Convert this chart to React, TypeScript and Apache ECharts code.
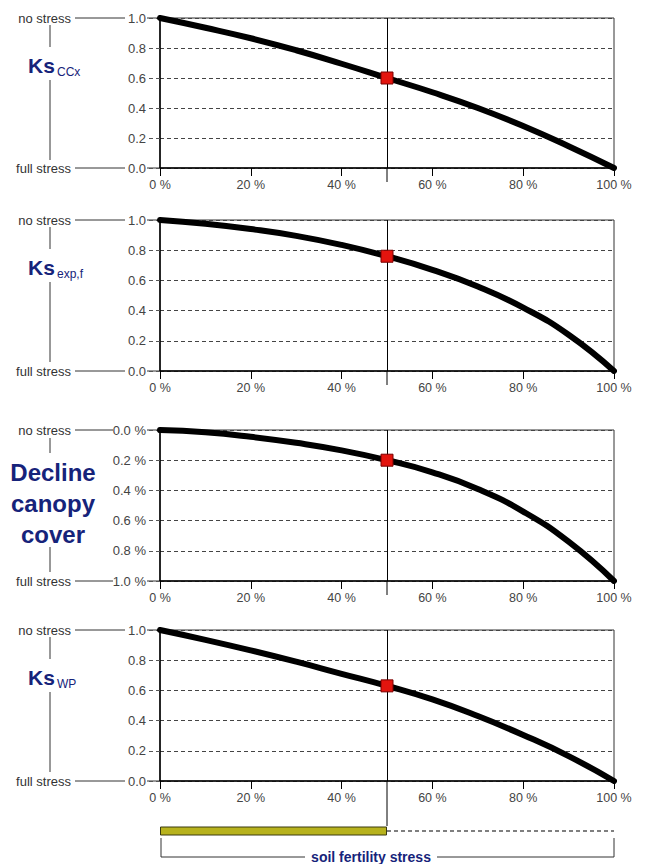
import React, { useEffect, useRef } from "react";
import * as echarts from "echarts";

// soil fertility stress (%) along the x axis
const stressPct = [0, 10, 20, 30, 40, 50, 60, 70, 80, 90, 100];
const ksCCx = [1.0, 0.935, 0.865, 0.785, 0.695, 0.6, 0.505, 0.4, 0.28, 0.145, 0.0];
const ksExpF = [1.0, 0.975, 0.94, 0.895, 0.835, 0.76, 0.67, 0.56, 0.42, 0.24, 0.0];
const declineCC = [0.0, 0.015, 0.045, 0.085, 0.135, 0.2, 0.28, 0.39, 0.54, 0.74, 1.0];
const ksWP = [1.0, 0.935, 0.865, 0.79, 0.71, 0.63, 0.54, 0.43, 0.305, 0.165, 0.0];
const currentStress = 50;
const xTicks = [0, 20, 40, 60, 80, 100];
const yTicks = [0, 0.2, 0.4, 0.6, 0.8, 1.0];

const seriesList = [ksCCx, ksExpF, declineCC, ksWP];
const panelTitles = [
  { main: "Ks", sub: "CCx" },
  { main: "Ks", sub: "exp,f" },
  { main: "Decline\ncanopy\ncover", sub: "" },
  { main: "Ks", sub: "WP" },
];

const FONT = "'Liberation Sans', Arial, sans-serif";
const NAVY = "#16237a";
const PLOT_LEFT = 160;
const PLOT_W = 454;
const tops = [18, 220, 430, 630];
const heights = [150, 151, 151, 151];
const BAR_TOP = 826;

export default function App() {
  const ref = useRef<HTMLDivElement>(null);
  useEffect(() => {
    if (!ref.current) return;
    const chart = echarts.init(ref.current, null, { renderer: "svg" });
    const idx = stressPct.indexOf(currentStress);

    const grids: any[] = tops.map((t, i) => ({
      left: PLOT_LEFT,
      width: PLOT_W,
      top: t,
      height: heights[i],
      show: true,
      borderColor: "#333",
      borderWidth: 1,
      backgroundColor: "#fff",
    }));
    grids.push({ left: PLOT_LEFT, width: PLOT_W, top: BAR_TOP, height: 10 });

    const xAxes: any[] = tops.map((_, i) => ({
      type: "value",
      gridIndex: i,
      min: 0,
      max: 100,
      interval: 20,
      axisLine: { show: true, onZero: false, lineStyle: { color: "#000", width: 1.5 } },
      axisTick: { show: true, length: 8, lineStyle: { color: "#000", width: 1 } },
      axisLabel: {
        formatter: (v: number) => (xTicks.includes(v) ? `${v} %` : ""),
        color: "#444",
        fontSize: 12.5,
        fontFamily: FONT,
        margin: 10,
      },
      splitLine: { show: false },
    }));
    xAxes.push({ type: "value", gridIndex: 4, min: 0, max: 100, show: false });

    const yAxes: any[] = tops.map((_, i) => ({
      type: "value",
      gridIndex: i,
      min: 0,
      max: 1,
      interval: 0.2,
      inverse: i === 2,
      axisLine: { show: true, lineStyle: { color: "#000", width: 1.5 } },
      axisTick: { show: true, length: 12, lineStyle: { color: "#555", type: [4, 3] } },
      axisLabel: {
        formatter: (v: number) => {
          const t = yTicks.find((y) => Math.abs(y - v) < 1e-6);
          if (t === undefined) return "";
          return t.toFixed(1) + (i === 2 ? " %" : "");
        },
        color: "#444",
        fontSize: 13,
        fontFamily: FONT,
        margin: 14,
      },
      splitLine: { show: true, lineStyle: { color: "#444", type: [4, 3], width: 1 } },
    }));
    yAxes.push({ type: "category", gridIndex: 4, data: ["stress"], show: false });

    const series: any[] = [];
    seriesList.forEach((vals, i) => {
      series.push({
        type: "line",
        xAxisIndex: i,
        yAxisIndex: i,
        data: stressPct.map((x, j) => [x, vals[j]]),
        showSymbol: false,
        smooth: 0.5,
        lineStyle: { color: "#000", width: 6, cap: "round" },
        z: 3,
        markLine: {
          silent: true,
          symbol: "none",
          label: { show: false },
          lineStyle: { color: "#000", width: 1, type: "solid" },
          data: [{ xAxis: currentStress }],
        },
      });
      series.push({
        type: "scatter",
        xAxisIndex: i,
        yAxisIndex: i,
        data: [[currentStress, vals[idx]]],
        symbol: "rect",
        symbolSize: 12,
        itemStyle: { color: "#e3140e", borderColor: "#7a0000", borderWidth: 1, opacity: 1 },
        z: 10,
      });
    });
    series.push({
      type: "bar",
      xAxisIndex: 4,
      yAxisIndex: 4,
      data: [currentStress],
      barWidth: 9,
      itemStyle: { color: "#b7b21d", borderColor: "#3a3a10", borderWidth: 1 },
    });
    series.push({
      type: "line",
      xAxisIndex: 4,
      yAxisIndex: 4,
      data: [
        [currentStress, "stress"],
        [100, "stress"],
      ],
      symbol: "none",
      lineStyle: { color: "#555", width: 1.5, type: [4, 3] },
    });

    const graphic: any[] = [];
    const lineStyle = { stroke: "#333", lineWidth: 1 };
    const stressX = PLOT_LEFT + (PLOT_W * currentStress) / 100;
    tops.forEach((t, i) => {
      const b = t + heights[i];
      const lineEnd = i === 2 ? 113 : 125;
      graphic.push({
        type: "text",
        x: 71,
        y: t,
        style: { text: "no stress", fill: "#333", fontSize: 13, fontFamily: FONT, align: "right", verticalAlign: "middle" },
      });
      graphic.push({
        type: "text",
        x: 71,
        y: b,
        style: { text: "full stress", fill: "#333", fontSize: 13, fontFamily: FONT, align: "right", verticalAlign: "middle" },
      });
      graphic.push({ type: "line", shape: { x1: 75, y1: t, x2: lineEnd, y2: t }, style: lineStyle });
      graphic.push({ type: "line", shape: { x1: 75, y1: b, x2: lineEnd, y2: b }, style: lineStyle });
      graphic.push({ type: "line", shape: { x1: 147, y1: t, x2: 160, y2: t }, style: lineStyle });
      graphic.push({ type: "line", shape: { x1: 147, y1: b, x2: 160, y2: b }, style: lineStyle });
      // stress marker line extends below the axis
      graphic.push({
        type: "line",
        shape: { x1: stressX, y1: b, x2: stressX, y2: i === 3 ? BAR_TOP : b + 14 },
        style: { stroke: "#000", lineWidth: 1 },
      });
      const title = panelTitles[i];
      if (i === 2) {
        graphic.push({ type: "line", shape: { x1: 50, y1: t + 8, x2: 50, y2: t + 23 }, style: lineStyle });
        graphic.push({ type: "line", shape: { x1: 50, y1: t + 117, x2: 50, y2: t + 142 }, style: lineStyle });
        title.main.split("\n").forEach((w, k) => {
          graphic.push({
            type: "text",
            x: 53,
            y: t + 42 + k * 31,
            style: { text: w, fill: NAVY, fontSize: 24, fontWeight: "bold", fontFamily: FONT, align: "center", verticalAlign: "middle" },
          });
        });
      } else {
        graphic.push({ type: "line", shape: { x1: 50, y1: t + 7, x2: 50, y2: t + 29 }, style: lineStyle });
        graphic.push({ type: "line", shape: { x1: 50, y1: t + 62, x2: 50, y2: t + 142 }, style: lineStyle });
        graphic.push({
          type: "text",
          x: 28,
          y: t + 47,
          style: { text: title.main, fill: NAVY, fontSize: 21, fontWeight: "bold", fontFamily: FONT, align: "left", verticalAlign: "middle" },
        });
        graphic.push({
          type: "text",
          x: 57,
          y: t + 54,
          style: { text: title.sub, fill: NAVY, fontSize: 12, fontFamily: FONT, align: "left", verticalAlign: "middle" },
        });
      }
    });
    // soil fertility stress bracket
    graphic.push({ type: "line", shape: { x1: 161, y1: 838, x2: 161, y2: 857 }, style: lineStyle });
    graphic.push({ type: "line", shape: { x1: 614, y1: 838, x2: 614, y2: 857 }, style: lineStyle });
    graphic.push({ type: "line", shape: { x1: 161, y1: 857, x2: 305, y2: 857 }, style: lineStyle });
    graphic.push({ type: "line", shape: { x1: 437, y1: 857, x2: 614, y2: 857 }, style: lineStyle });
    graphic.push({
      type: "text",
      x: 371,
      y: 857,
      style: { text: "soil fertility stress", fill: NAVY, fontSize: 14, fontWeight: "bold", fontFamily: FONT, align: "center", verticalAlign: "middle" },
    });

    chart.setOption({
      animation: false,
      backgroundColor: "#fff",
      grid: grids,
      xAxis: xAxes,
      yAxis: yAxes,
      series,
      graphic,
    });
    return () => chart.dispose();
  }, []);
  return (
    <div
      ref={ref}
      style={{ position: "fixed", left: 0, top: 0, width: 646, height: 864, background: "#fff" }}
    />
  );
}
